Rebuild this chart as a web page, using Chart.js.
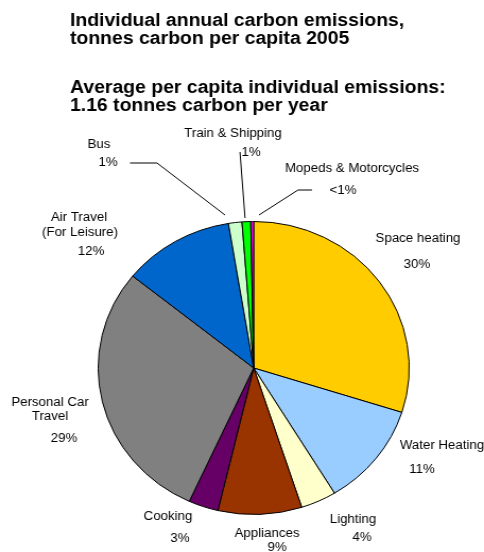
<!DOCTYPE html>
<html>
<head>
<meta charset="utf-8">
<script src="https://cdn.jsdelivr.net/npm/chart.js@4/dist/chart.umd.min.js"></script>
<style>
  body { margin: 0; background: #fff; }
</style>
</head>
<body>
<canvas id="chart" width="456" height="552" style="display:block;width:484px;height:552px"></canvas>
<script>
// Data (share of 1.16 t per capita, %)
const categories = ["Space heating", "Water Heating", "Lighting", "Appliances", "Cooking",
  "Personal Car Travel", "Air Travel (For Leisure)", "Bus", "Train & Shipping", "Mopeds & Motorcycles"];
const shares = [29.9, 11.4, 3.7, 8.7, 3.1, 29.0, 11.6, 1.4, 0.9, 0.3];
const pctLabels = ["30%", "11%", "4%", "9%", "3%", "29%", "12%", "1%", "1%", "<1%"];
const nameLines = [["Space heating"], ["Water Heating"], ["Lighting"], ["Appliances"], ["Cooking"],
  ["Personal Car", "Travel"], ["Air Travel", "(For Leisure)"], ["Bus"], ["Train & Shipping"], ["Mopeds & Motorcycles"]];
const colors = ["#FFCC00", "#99CCFF", "#FFFFCC", "#993300", "#660066",
  "#808080", "#0066CC", "#CCFFCC", "#00FF00", "#FF00FF"];
const titleLines = ["Individual annual carbon emissions,", "tonnes carbon per capita 2005", "",
  "Average per capita individual emissions:", "1.16 tonnes carbon per year"];

// The original is a little wider than tall, so the canvas is stretched horizontally
const SX = 456 / 484;

// label placement (page px): one point per text line, then the percentage
const labelPos = [
  [[418, 239], [417, 265]],
  [[442, 446], [422, 470]],
  [[353, 520], [362, 538]],
  [[267, 534], [277, 548]],
  [[168, 517], [180, 539]],
  [[50, 403], [50, 417], [64, 439]],
  [[79, 218], [80, 233], [91, 252]],
  [[99, 145], [108, 163]],
  [[233, 134], [251, 153]],
  [[352, 169], [343, 191]]
];
const leaders = [
  null, null, null, null, null, null, null,
  [[130, 163], [157, 163], [225, 215]],
  [[240, 152], [245, 218]],
  [[312, 190], [298, 190], [259, 215]]
];

const labelsPlugin = {
  id: "labels",
  afterDraw(chart) {
    const ctx = chart.ctx;
    ctx.save();
    // titles
    ctx.fillStyle = "#000";
    ctx.textAlign = "left";
    ctx.textBaseline = "alphabetic";
    ctx.font = "bold 18.3px 'Liberation Sans', Arial, sans-serif";
    const baselines = [26, 43.5, 0, 93, 111];
    titleLines.forEach((t, i) => { if (t) ctx.fillText(t, 70 * SX, baselines[i]); });

    // leader lines
    ctx.strokeStyle = "#000";
    ctx.lineWidth = 1;
    leaders.forEach(pts => {
      if (!pts) return;
      ctx.beginPath();
      pts.forEach((p, j) => j ? ctx.lineTo(p[0] * SX, p[1]) : ctx.moveTo(p[0] * SX, p[1]));
      ctx.stroke();
    });

    // slice labels
    ctx.font = "12.5px 'Liberation Sans', Arial, sans-serif";
    ctx.textAlign = "center";
    ctx.textBaseline = "middle";
    categories.forEach((c, i) => {
      const texts = nameLines[i].concat([pctLabels[i]]);
      texts.forEach((t, j) => {
        const p = labelPos[i][j];
        ctx.fillText(t, p[0] * SX, p[1]);
      });
    });
    ctx.restore();
  }
};

new Chart(document.getElementById("chart"), {
  type: "pie",
  data: {
    labels: categories,
    datasets: [{
      data: shares,
      backgroundColor: colors,
      borderColor: "#000",
      borderWidth: 1
    }]
  },
  options: {
    responsive: false,
    devicePixelRatio: 1,
    animation: false,
    layout: { padding: { left: 92, right: 70, top: 221, bottom: 37 } },
    plugins: {
      legend: { display: false },
      tooltip: { enabled: false },
      title: { display: false }
    }
  },
  plugins: [labelsPlugin]
});
</script>
</body>
</html>
